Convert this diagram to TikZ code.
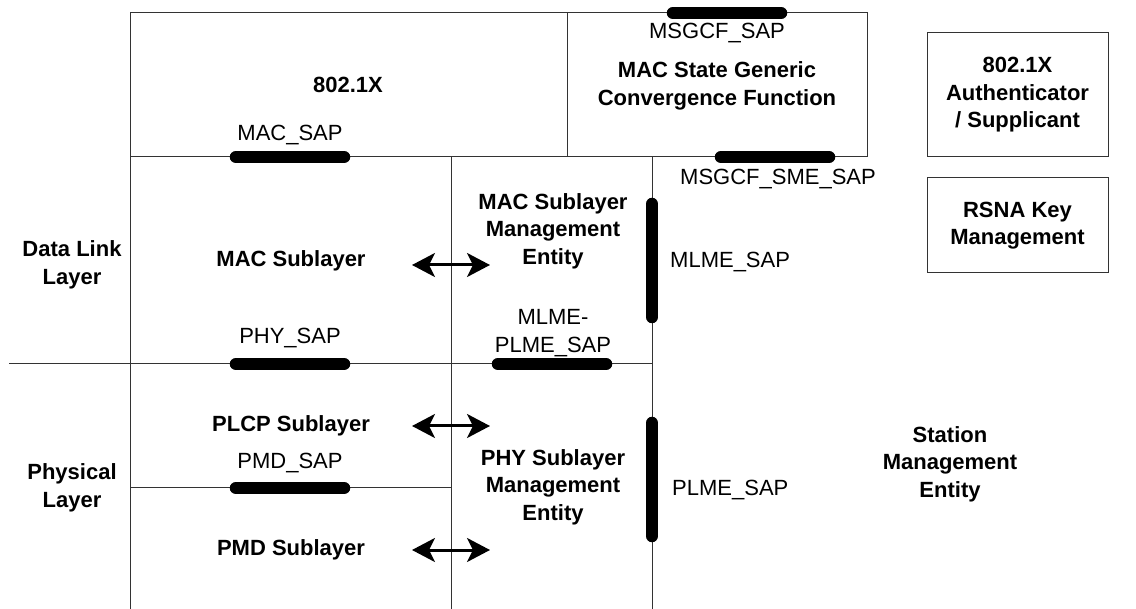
\documentclass[tikz,border=0pt]{standalone}
\usepackage{fontspec}
\setmainfont{Liberation Sans}
\usetikzlibrary{positioning, arrows.meta}

\begin{document}
\begin{tikzpicture}[
    x=1pt, y=-1pt,
    font=\fontsize{22}{27.5}\selectfont,
    edge/.style={draw=black!80, line width=1pt},
    box/.style={draw=black!80, line width=1pt, minimum width=181pt, align=center, font=\fontsize{22}{27.5}\selectfont\bfseries},
    title/.style={align=center, inner sep=0pt, font=\fontsize{22}{27.5}\selectfont\bfseries},
    saptext/.style={align=center, inner sep=0pt},
    sap/.style={line width=12.5pt, line cap=round},
    arr/.style={{Stealth[length=23pt, width=24pt, inset=6pt]}-{Stealth[length=23pt, width=24pt, inset=6pt]}, line width=3pt}
]
    \useasboundingbox (0,0) rectangle (1136,609);

    % layer boundaries
    \draw[edge] (130,609) -- (130,13) -- (867,13) -- (867,157) -- (130,157);
    \draw[edge] (567,13) -- (567,157);
    \draw[edge] (451,157) -- (451,609);
    \draw[edge] (652,157) -- (652,609);
    \draw[edge] (9,364) -- (652,364);
    \draw[edge] (130,488) -- (451,488);

    % service access points
    \draw[sap] (673,13) -- (781,13);
    \draw[sap] (236,157) -- (344,157);
    \draw[sap] (721,157) -- (829,157);
    \draw[sap] (652,204) -- (652,317);
    \draw[sap] (236,364) -- (344,364);
    \draw[sap] (498,364) -- (606,364);
    \draw[sap] (236,488) -- (344,488);
    \draw[sap] (652,423) -- (652,536);

    % side boxes
    \node[box, minimum height=124pt] (auth) at (1017.5,95) {802.1X\\Authenticator\\/ Supplicant};
    \node[box, minimum height=95pt] (rsna) at (1017.5,225.5) {RSNA Key\\Management};

    \node[title] (dotx) at (348,85) {802.1X};
    \node[title] (msgcf) at (717,86) {MAC State Generic\\Convergence Function};
    \node[saptext] (msgcfsap) at (717,33) {MSGCF\_SAP};
    \node[saptext] (macsap) at (290,135) {MAC\_SAP};
    \node[saptext] (smesap) at (778,179) {MSGCF\_SME\_SAP};

    \node[title] (dll) at (72,265) {Data Link\\Layer};
    \node[title] (macsub) at (291,261) {MAC Sublayer};
    \node[title] (mlme) at (553,231) {MAC Sublayer\\Management\\Entity};
    \node[saptext, anchor=west] (mlmesap) at (670,262) {MLME\_SAP};
    \node[saptext] (physap) at (290,338) {PHY\_SAP};
    \node[saptext] (mpsap) at (553,333) {MLME-\\PLME\_SAP};

    \node[title] (phl) at (72,488) {Physical\\Layer};
    \node[title] (plcp) at (291,426) {PLCP Sublayer};
    \node[saptext] (pmdsap) at (290,463) {PMD\_SAP};
    \node[title] (pmd) at (291,550) {PMD Sublayer};
    \node[title] (plme) at (553,487) {PHY Sublayer\\Management\\Entity};
    \node[saptext, anchor=west] (plmesap) at (672,490) {PLME\_SAP};
    \node[title] (sme) at (950,464) {Station\\Management\\Entity};

    % primitives between sublayers and management entities
    \coordinate (macL) at (412,265);
    \coordinate (macR) at (490,265);
    \coordinate (plcpL) at (412,426);
    \coordinate (plcpR) at (490,426);
    \coordinate (pmdL) at (412,550);
    \coordinate (pmdR) at (490,550);
    \draw[arr] (macL) -- (macR);
    \draw[arr] (plcpL) -- (plcpR);
    \draw[arr] (pmdL) -- (pmdR);
\end{tikzpicture}
\end{document}
